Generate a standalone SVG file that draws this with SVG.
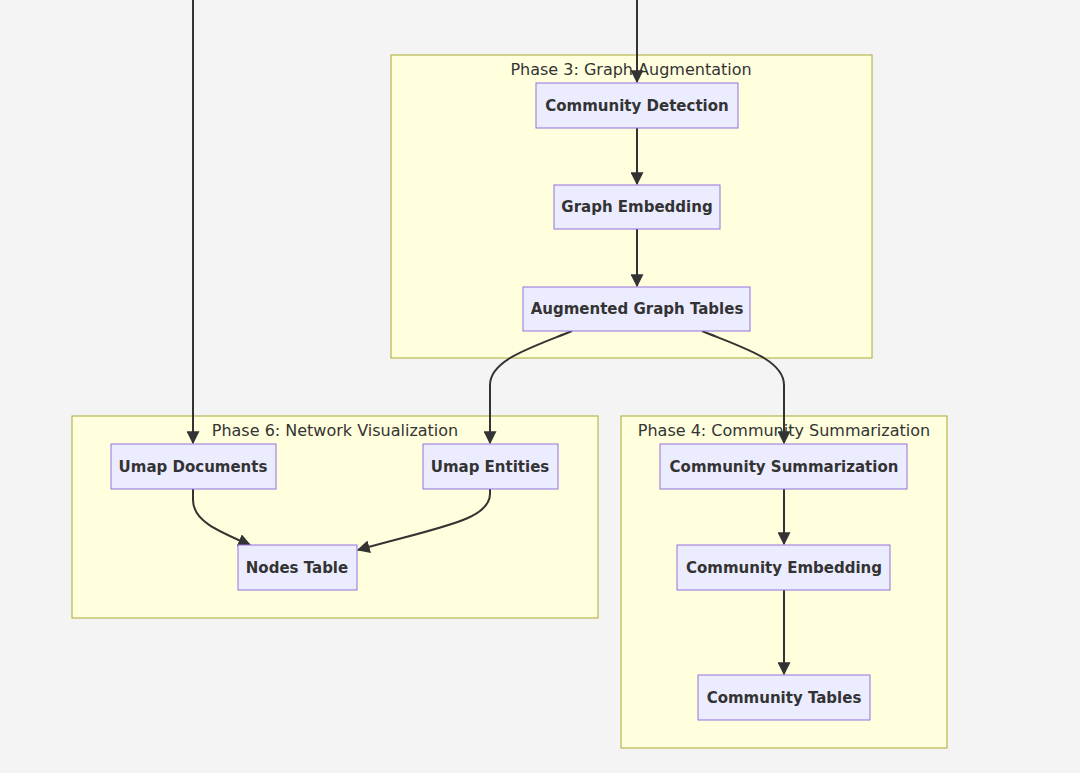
<svg xmlns="http://www.w3.org/2000/svg" width="1080" height="773" viewBox="0 0 1080 773">
<style>
.bg{fill:#f4f4f4}
.cluster rect{fill:#ffffde;stroke:#aaaa33;stroke-width:1}
.cluster text{font-family:"DejaVu Sans",sans-serif;font-size:16px;fill:#333;text-anchor:middle}
.node rect{fill:#ececff;stroke:#9370db;stroke-width:1}
.node text{font-family:"DejaVu Sans",sans-serif;font-size:15px;font-weight:bold;fill:#333;text-anchor:middle;dominant-baseline:central}
.edge{fill:none;stroke:#333;stroke-width:2;marker-end:url(#arr)}
</style>
<defs>
<marker id="arr" viewBox="0 0 10 10" refX="9" refY="5" markerWidth="13" markerHeight="13" markerUnits="userSpaceOnUse" orient="auto">
<path d="M0,0 L10,5 L0,10 z" fill="#333"/>
</marker>
</defs>
<rect class="bg" width="1080" height="773"/>
<g id="phase3" class="cluster"><rect x="391" y="55" width="481" height="303"/><text x="631" y="75">Phase 3: Graph Augmentation</text></g>
<g id="phase6" class="cluster"><rect x="72" y="416" width="526" height="202"/><text x="335" y="436">Phase 6: Network Visualization</text></g>
<g id="phase4" class="cluster"><rect x="621" y="416" width="326" height="332"/><text x="784" y="436">Phase 4: Community Summarization</text></g>
<g id="connectors">
<path class="edge" d="M193,0 L193,443"/>
<path class="edge" d="M637,0 L637,82"/>
<path class="edge" d="M637,128 L637,184"/>
<path class="edge" d="M637,229 L637,286"/>
<path class="edge" d="M572,331 C530,348 490,360 490,385 L490,443"/>
<path class="edge" d="M702,331 C744,348 784,360 784,385 L784,443"/>
<path class="edge" d="M193,489 L193,500 C193,520 215,530 250,545"/>
<path class="edge" d="M490,489 L490,494 C490,520 440,527 358,550"/>
<path class="edge" d="M784,489 L784,544"/>
<path class="edge" d="M784,590 L784,674"/>
</g>
<g id="community_detection" class="node"><rect x="536" y="83" width="202" height="45"/><text x="637" y="106">Community Detection</text></g>
<g id="graph_embedding" class="node"><rect x="554" y="185" width="166" height="44"/><text x="637" y="207">Graph Embedding</text></g>
<g id="augmented_graph_tables" class="node"><rect x="523" y="287" width="227" height="44"/><text x="637" y="309">Augmented Graph Tables</text></g>
<g id="umap_documents" class="node"><rect x="111" y="444" width="165" height="45"/><text x="193" y="467">Umap Documents</text></g>
<g id="umap_entities" class="node"><rect x="423" y="444" width="135" height="45"/><text x="490" y="467">Umap Entities</text></g>
<g id="nodes_table" class="node"><rect x="238" y="545" width="119" height="45"/><text x="297" y="568">Nodes Table</text></g>
<g id="community_summarization" class="node"><rect x="660" y="444" width="247" height="45"/><text x="784" y="467">Community Summarization</text></g>
<g id="community_embedding" class="node"><rect x="677" y="545" width="213" height="45"/><text x="784" y="568">Community Embedding</text></g>
<g id="community_tables" class="node"><rect x="698" y="675" width="172" height="45"/><text x="784" y="698">Community Tables</text></g>
</svg>
